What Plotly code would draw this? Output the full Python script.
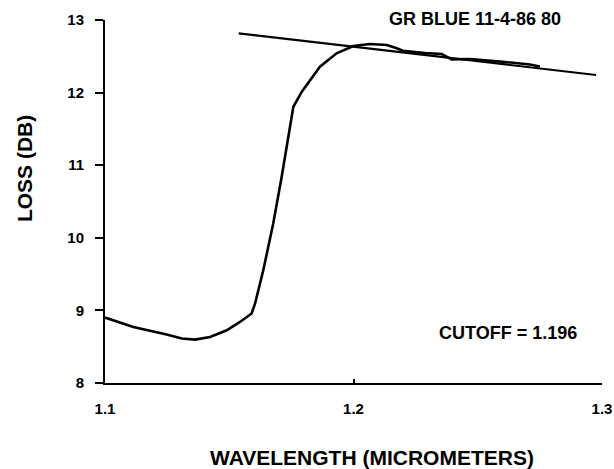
import plotly.graph_objects as go

# ==============================================================================
# DATA
# ==============================================================================

# measured loss curve
WAVELENGTH = [1.1000, 1.1114, 1.1248, 1.1309, 1.1362, 1.1423, 1.1490, 1.1543,
              1.1590, 1.1604, 1.1637, 1.1677, 1.1711, 1.1738, 1.1758, 1.1792,
              1.1865, 1.1932, 1.1999, 1.2066, 1.2134, 1.2174, 1.2199, 1.2288,
              1.2355, 1.2395, 1.2469, 1.2590, 1.2710, 1.2750]
LOSS = [8.902, 8.772, 8.667, 8.612, 8.598, 8.634, 8.726, 8.841,
        8.957, 9.095, 9.554, 10.197, 10.840, 11.391, 11.805, 12.012,
        12.356, 12.541, 12.642, 12.669, 12.655, 12.610, 12.577, 12.545,
        12.531, 12.458, 12.462, 12.428, 12.387, 12.359]

# fitted straight line (long-wavelength asymptote)
FIT_X = [1.1538, 1.2976]
FIT_Y = [12.817, 12.242]

X_TICKS = [1.1, 1.2, 1.3]
Y_TICKS = [8, 9, 10, 11, 12, 13]

LABEL_TOP = "GR BLUE 11-4-86 80"
LABEL_CUTOFF = "CUTOFF = 1.196"

FONT = "Liberation Sans"

# ==============================================================================
# FIGURE
# ==============================================================================

fig = go.Figure()

fig.add_trace(go.Scatter(
    x=WAVELENGTH, y=LOSS,
    mode='lines',
    line=dict(color='black', width=2.6),
    showlegend=False
))

fig.add_trace(go.Scatter(
    x=FIT_X, y=FIT_Y,
    mode='lines',
    line=dict(color='black', width=2.2),
    showlegend=False
))

# text labels inside the plot
fig.add_annotation(x=0.744, y=1.003, xref='paper', yref='paper', text=LABEL_TOP,
                   xanchor='center', yanchor='middle', showarrow=False,
                   font=dict(family=FONT, size=18, color='black', weight='bold'))
fig.add_annotation(x=1.262, y=8.685, xref='x', yref='y', text=LABEL_CUTOFF,
                   xanchor='center', yanchor='middle', showarrow=False,
                   font=dict(family=FONT, size=18, color='black', weight='bold'))

# axis titles
fig.add_annotation(x=-0.163, y=0.592, xref='paper', yref='paper', text="LOSS (DB)",
                   xanchor='center', yanchor='middle', textangle=-90, showarrow=False,
                   font=dict(family=FONT, size=21, color='black', weight='bold'))
fig.add_annotation(x=0.538, y=-0.204, xref='paper', yref='paper',
                   text="WAVELENGTH (MICROMETERS)",
                   xanchor='center', yanchor='middle', showarrow=False,
                   font=dict(family=FONT, size=21, color='black', weight='bold'))

fig.update_layout(
    width=614, height=469,
    margin=dict(l=105, r=12, t=20, b=86),
    paper_bgcolor='white',
    plot_bgcolor='white',
    font=dict(family=FONT, color='black')
)

fig.update_xaxes(
    range=[1.1, 1.3], automargin=False,
    tickvals=X_TICKS, ticktext=[f"{v:.1f}" for v in X_TICKS],
    showline=True, linecolor='black', linewidth=2,
    ticks='inside', ticklen=4, tickwidth=2, tickcolor='black',
    ticklabelstandoff=11,
    tickfont=dict(family=FONT, size=15, weight='bold'),
    showgrid=False, zeroline=False
)
fig.update_yaxes(
    range=[8, 13], automargin=False,
    tickvals=Y_TICKS,
    showline=True, linecolor='black', linewidth=2,
    ticks='outside', ticklen=8, tickwidth=2, tickcolor='black',
    ticklabelstandoff=8,
    tickfont=dict(family=FONT, size=15, weight='bold'),
    showgrid=False, zeroline=False
)

# drop the default page margin so the figure fills the window exactly
fig.write_html("out.html",
               config={'displayModeBar': False},
               post_script="document.body.style.margin='0px';")
